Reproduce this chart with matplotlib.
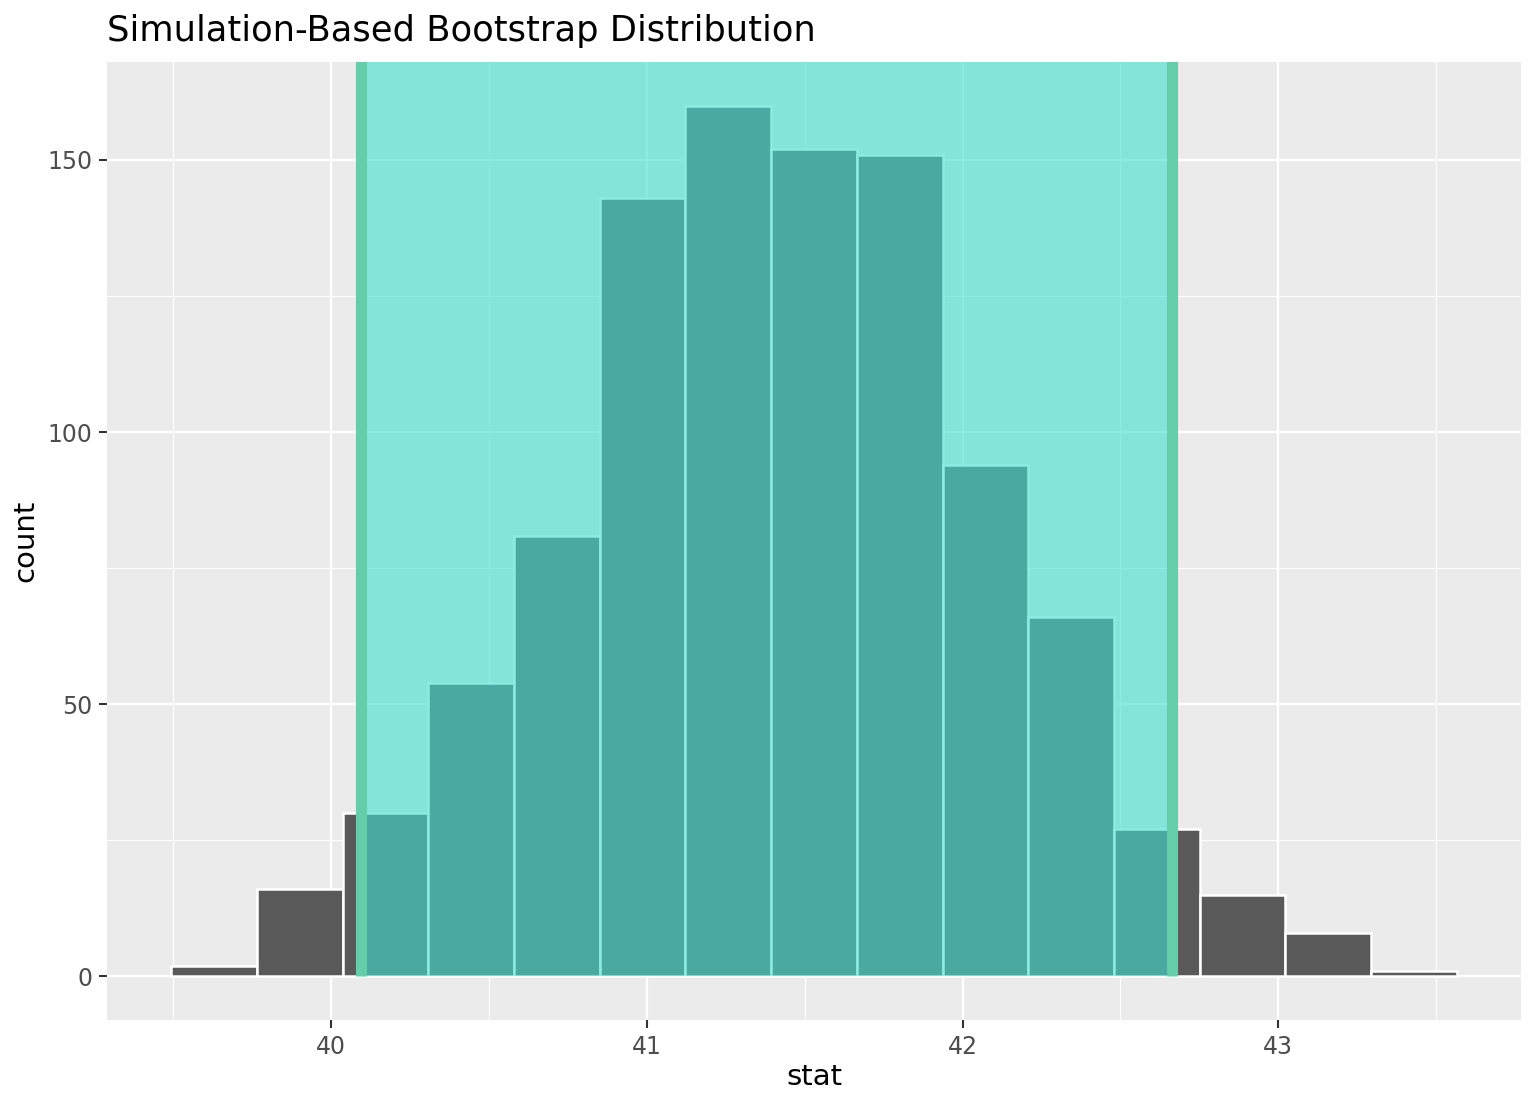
import numpy as np
import matplotlib.pyplot as plt
from matplotlib.patches import Rectangle

# 数据：自助法统计量直方图
bin_start = 39.493
bin_width = 0.2715
counts = [2, 16, 30, 54, 81, 143, 160, 152, 151, 94, 66, 27, 15, 8, 1]
ci_bounds = [40.095, 42.662]

x_ticks = [40, 41, 42, 43]
x_minor = [39.5, 40.5, 41.5, 42.5, 43.5]
y_ticks = [0, 50, 100, 150]
y_minor = [25, 75, 125]

plt.rcParams['font.family'] = ['DejaVu Sans']

fig = plt.figure(figsize=(7.68, 5.52), dpi=200)
ax = fig.add_axes([107/1536, 1 - 1020/1104, (1521-107)/1536, (1020-62)/1104])
ax.set_facecolor('#EBEBEB')
for s in ax.spines.values():
    s.set_visible(False)

# 网格线
for v in x_minor:
    ax.axvline(v, color='white', lw=0.4, zorder=0.5)
for v in y_minor:
    ax.axhline(v, color='white', lw=0.4, zorder=0.5)
for v in x_ticks:
    ax.axvline(v, color='white', lw=0.8, zorder=0.6)
for v in y_ticks:
    ax.axhline(v, color='white', lw=0.8, zorder=0.6)

# 直方图
n = len(counts)
lefts = bin_start + bin_width * np.arange(n)
ax.bar(lefts, counts, width=bin_width, align='edge', color='#595959',
       edgecolor='white', linewidth=0.9, zorder=2)

# 置信区间阴影
ax.add_patch(Rectangle((ci_bounds[0], 0), ci_bounds[1] - ci_bounds[0], 1000,
                       facecolor='#40E0D0', alpha=0.6, edgecolor='none', zorder=3))
ax.vlines(ci_bounds, 0, 1000, color='#66CDAA', lw=4, zorder=4)

lo = bin_start
hi = bin_start + bin_width * n
pad_x = (hi - lo) * 0.05
ax.set_xlim(lo - pad_x, hi + pad_x)
ymax = max(counts)
ax.set_ylim(-ymax * 0.05, ymax * 1.05)

ax.set_xticks(x_ticks)
ax.set_yticks(y_ticks)
ax.tick_params(axis='both', colors='#333333', length=2.75, width=0.75,
               labelsize=8.5, labelcolor='#4D4D4D', pad=2.5)

ax.set_xlabel('stat', fontsize=10.5, color='black', labelpad=1.5)
ax.set_ylabel('count', fontsize=10.5, color='black', labelpad=3)

fig.text(107/1536, 1 - 41/1104, 'Simulation-Based Bootstrap Distribution',
         fontsize=12.7, color='black', ha='left', va='baseline')

fig.savefig('out.png', dpi=200)
